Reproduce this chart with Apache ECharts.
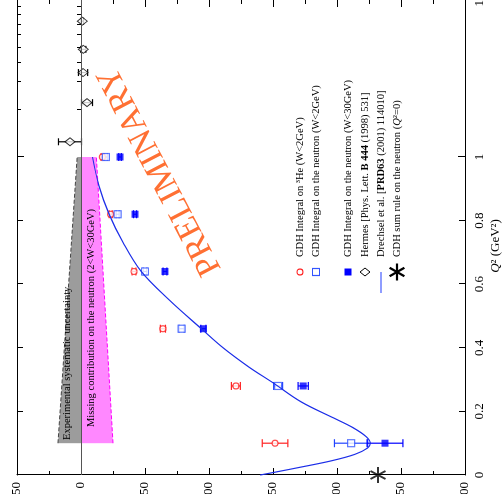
<!DOCTYPE html>
<html><head><meta charset="utf-8">
<script src="https://cdn.jsdelivr.net/npm/echarts@6/dist/echarts.min.js"></script>
<style>
html,body{margin:0;padding:0;width:504px;height:494px;overflow:hidden;background:#fff}
#wrap{position:absolute;left:0;top:0;width:494px;height:504px;transform-origin:0 0;transform:translateY(494px) rotate(-90deg);}
#chart{width:494px;height:504px;background:#fff}
</style></head><body>
<div id="wrap"><div id="chart"></div></div>
<script>
// ---- data (Q2 in GeV^2, integral in microbarn) ----
const q2Jlab   = [0.10, 0.28, 0.46, 0.64, 0.82, 1.00];
const he3Low   = [-151.6, -121.0, -64.0, -41.4, -23.2, -16.7];
const he3Err   = [10, 3.5, 2, 1.5, 1.2, 1];
const nLow     = [-211.0, -154.0, -78.6, -50.0, -28.6, -19.5];
const nLowErr  = [13, 3.5, 2, 1.5, 1.2, 1];
const nHigh    = [-237.5, -173.6, -95.6, -65.6, -42.2, -30.5];
const nHighErr = [14, 4, 2, 1.5, 1.2, 1];
const hermesQ2 = [1.25, 2.22, 3.45, 4.85, 7.33];
const hermes   = [8.6, -4.7, -1.6, -1.8, -1.0];
const hermesErr= [9, 4.3, 3.6, 2, 1];
const maidQ2   = [0, 0.01, 0.025, 0.045, 0.065, 0.085, 0.10, 0.12, 0.15, 0.18, 0.23, 0.29, 0.34, 0.40, 0.46, 0.55, 0.64, 0.73, 0.82, 0.91, 1.00];
const maid     = [-140, -153, -172, -196, -214, -224, -226, -223, -212, -197, -172, -150, -131, -111, -94, -69, -47, -33, -22, -14, -9];
const gdhQ2    = [0];
const gdhSum   = [-232];
const bandQ2   = [0.10, 1.00];
const sysUpper = [18, 3];
const missLower= [-25, -12];
const linTicks = [0, 0.2, 0.4, 0.6, 0.8];
const logMajor = [1, 10];
const logMinor = [2, 3, 4, 5, 6, 7, 8, 9];
const yMin = -300, yMax = 50, yStep = 50;

const zip = (a, b) => a.map((v, i) => [v, b[i]]);
const zip3 = (a, b, c) => a.map((v, i) => [v, b[i], c[i]]);
const SERIF = '"Liberation Serif", "DejaVu Serif", serif';

function errRender(color, cap) {
  return function (params, api) {
    const x = api.value(0), y = api.value(1), e = api.value(2);
    const t = api.coord([x, y + e]), b = api.coord([x, y - e]);
    const st = {stroke: color, lineWidth: 1.2};
    return {type: 'group', children: [
      {type: 'line', shape: {x1: t[0], y1: t[1], x2: b[0], y2: b[1]}, style: st},
      {type: 'line', shape: {x1: t[0] - cap, y1: t[1], x2: t[0] + cap, y2: t[1]}, style: st},
      {type: 'line', shape: {x1: b[0] - cap, y1: b[1], x2: b[0] + cap, y2: b[1]}, style: st}
    ]};
  };
}
const STAR = 'path://M-10,-1.2L10,-1.2L10,1.2L-10,1.2Z M-3.961,-9.26L6.039,8.06L3.961,9.26L-6.039,-8.06Z M-6.039,8.06L3.961,-9.26L6.039,-8.06L-3.961,9.26Z';

const axLine = {show: true, onZero: false, lineStyle: {color: '#000', width: 1}};
const lbl = {color: '#000', fontFamily: SERIF, fontSize: 13};

const xAxes = [
  {gridIndex: 0, type: 'value', min: 0, max: 1, interval: 0.2, position: 'bottom',
   axisLine: axLine, axisTick: {inside: true, length: 6, lineStyle: {color: '#000'}},
   axisLabel: Object.assign({margin: 8, showMaxLabel: false}, lbl), splitLine: {show: false}},
  {gridIndex: 0, type: 'value', min: 0, max: 1, interval: 0.2, position: 'top',
   axisLine: axLine, axisTick: {inside: true, length: 6, lineStyle: {color: '#000'}},
   axisLabel: {show: false}, splitLine: {show: false}},
  {gridIndex: 1, type: 'log', logBase: 10, min: 1, max: 10, position: 'bottom',
   axisLine: axLine, axisTick: {inside: true, length: 7, lineStyle: {color: '#000'}},
   axisLabel: Object.assign({margin: 8, formatter: v => String(Math.round(v))}, lbl), splitLine: {show: false}},
  {gridIndex: 1, type: 'log', logBase: 10, min: 1, max: 10, position: 'bottom',
   axisLine: {show: false}, axisTick: {inside: true, length: 4, customValues: logMinor, lineStyle: {color: '#000'}},
   axisLabel: {show: false}, splitLine: {show: false}},
  {gridIndex: 1, type: 'log', logBase: 10, min: 1, max: 10, position: 'top',
   axisLine: axLine, axisTick: {inside: true, length: 7, lineStyle: {color: '#000'}},
   axisLabel: {show: false}, splitLine: {show: false}},
  {gridIndex: 1, type: 'log', logBase: 10, min: 1, max: 10, position: 'top',
   axisLine: {show: false}, axisTick: {inside: true, length: 4, customValues: logMinor, lineStyle: {color: '#000'}},
   axisLabel: {show: false}, splitLine: {show: false}}
];
const yAxes = [
  {gridIndex: 0, type: 'value', min: yMin, max: yMax, interval: yStep, position: 'left',
   axisLine: axLine, axisTick: {inside: true, length: 7, lineStyle: {color: '#000'}},
   minorTick: {show: true, splitNumber: 2, length: 4, lineStyle: {color: '#000'}},
   axisLabel: Object.assign({margin: 7}, lbl), splitLine: {show: false}, minorSplitLine: {show: false}},
  {gridIndex: 1, type: 'value', min: yMin, max: yMax, interval: yStep, position: 'right',
   axisLine: axLine, axisTick: {inside: true, length: 7, lineStyle: {color: '#000'}},
   minorTick: {show: true, splitNumber: 2, length: 4, lineStyle: {color: '#000'}},
   axisLabel: {show: false}, splitLine: {show: false}, minorSplitLine: {show: false}}
];

const zeroLine = {silent: true, symbol: 'none', label: {show: false},
  lineStyle: {color: '#555', width: 1, type: 'solid'}, data: [{yAxis: 0}]};

const series = [
  {type: 'line', xAxisIndex: 0, yAxisIndex: 0, data: zip(bandQ2, sysUpper), symbol: 'none', z: 1,
   lineStyle: {color: '#444', width: 1, type: 'dashed'}, areaStyle: {color: '#9c9c9c', opacity: 1, origin: 0},
   markLine: zeroLine},
  {type: 'line', xAxisIndex: 0, yAxisIndex: 0, data: zip(bandQ2, missLower), symbol: 'none', z: 1,
   lineStyle: {color: '#ff00ff', width: 1, type: 'dashed'}, areaStyle: {color: '#ff88ff', opacity: 1, origin: 0}},
  {type: 'custom', xAxisIndex: 0, yAxisIndex: 0, data: zip3(q2Jlab, he3Low, he3Err), renderItem: errRender('#ff2222', 4), z: 3, encode: {x: 0, y: 1}},
  {type: 'custom', xAxisIndex: 0, yAxisIndex: 0, data: zip3(q2Jlab, nLow, nLowErr), renderItem: errRender('#2244ff', 4), z: 3, encode: {x: 0, y: 1}},
  {type: 'custom', xAxisIndex: 0, yAxisIndex: 0, data: zip3(q2Jlab, nHigh, nHighErr), renderItem: errRender('#0000ff', 4), z: 3, encode: {x: 0, y: 1}},
  {type: 'scatter', xAxisIndex: 0, yAxisIndex: 0, data: zip(q2Jlab, he3Low), symbol: 'circle', symbolSize: 6, clip: false, z: 4,
   itemStyle: {color: '#fff', borderColor: '#ff2222', borderWidth: 1.2}},
  {type: 'scatter', xAxisIndex: 0, yAxisIndex: 0, data: zip(q2Jlab, nLow), symbol: 'rect', symbolSize: 7, clip: false, z: 4,
   itemStyle: {color: '#fff', borderColor: '#3355ff', borderWidth: 1.2}},
  {type: 'scatter', xAxisIndex: 0, yAxisIndex: 0, data: zip(q2Jlab, nHigh), symbol: 'rect', symbolSize: 7, clip: false, z: 4,
   itemStyle: {color: '#0000ff', borderColor: '#0000ff', borderWidth: 0}},
  {type: 'line', xAxisIndex: 0, yAxisIndex: 0, data: zip(maidQ2, maid), symbol: 'none', smooth: 0.35, z: 5,
   lineStyle: {color: '#1c2ee8', width: 1.2}},
  {type: 'scatter', xAxisIndex: 0, yAxisIndex: 0, data: zip(gdhQ2, gdhSum), symbol: STAR, symbolSize: 16, clip: false, z: 6,
   itemStyle: {color: '#000'}},
  {type: 'custom', xAxisIndex: 2, yAxisIndex: 1, data: zip3(hermesQ2, hermes, hermesErr), renderItem: errRender('#000', 3.5), z: 3, encode: {x: 0, y: 1},
   markLine: zeroLine},
  {type: 'scatter', xAxisIndex: 2, yAxisIndex: 1, data: zip(hermesQ2, hermes), symbol: 'diamond', symbolSize: [8, 10], clip: false, z: 4,
   itemStyle: {color: '#fff', borderColor: '#000', borderWidth: 1}}
];

const T = 10.5;
const baseTxt = (x, y, text, rich) => ({type: 'text', x: x, y: y, z: 10, silent: true,
  style: {text: text, fill: '#000', fontFamily: SERIF, fontSize: T, verticalAlign: 'middle', align: 'left', rich: rich || {}}});
const bold = {b: {fontFamily: SERIF, fontSize: T, fontWeight: 'bold', fill: '#000'}};
const ital = {i: {fontFamily: SERIF, fontSize: T, fontStyle: 'italic', fill: '#000'}};
const LX = 222, TX = 237;
function starGraphic(cx, cy, r) {
  const parts = [];
  for (let k = 0; k < 3; k++) {
    const a = k * Math.PI / 3;
    parts.push({type: 'line', z: 10, shape: {x1: cx - r * Math.cos(a), y1: cy - r * Math.sin(a), x2: cx + r * Math.cos(a), y2: cy + r * Math.sin(a)},
      style: {stroke: '#000', lineWidth: 2.2}});
  }
  return parts;
}
const graphic = [
  baseTxt(54, 67, 'Experimental systematic uncertainty'),
  baseTxt(67, 91, 'Missing contribution on the neutron (2<W<30GeV)'),
  {type: 'circle', shape: {cx: LX, cy: 300, r: 3}, style: {fill: '#fff', stroke: '#ff2222', lineWidth: 1.2}, z: 10},
  baseTxt(TX, 300, 'GDH Integral on \u00B3He (W<2GeV)'),
  {type: 'rect', shape: {x: LX - 3.5, y: 316 - 3.5, width: 7, height: 7}, style: {fill: '#fff', stroke: '#3355ff', lineWidth: 1.2}, z: 10},
  baseTxt(TX, 316, 'GDH Integral on the neutron (W<2GeV)'),
  {type: 'rect', shape: {x: LX - 3.5, y: 348 - 3.5, width: 7, height: 7}, style: {fill: '#0000ff'}, z: 10},
  baseTxt(TX, 348, 'GDH Integral on the neutron (W<30GeV)'),
  {type: 'polygon', shape: {points: [[LX, 360], [LX + 4, 365], [LX, 370], [LX - 4, 365]]}, style: {fill: '#fff', stroke: '#000', lineWidth: 1}, z: 10},
  baseTxt(TX, 365, 'Hermes [Phys. Lett. {b|B 444} (1998) 531]', bold),
  {type: 'line', shape: {x1: 201, y1: 381, x2: 222, y2: 381}, style: {stroke: '#6a7cff', lineWidth: 1.5}, z: 10}
].concat(starGraphic(LX, 397, 8.5)).concat([
  baseTxt(TX, 381, 'Drechsel et al. [{b|PRD63} (2001) 114010]', bold),
  baseTxt(TX, 397, 'GDH sum rule on the neutron ({i|Q}\u00B2=0)', ital),
  {type: 'text', x: 248, y: 496, z: 10, silent: true,
   style: {text: '{i|Q}\u00B2 (GeV\u00B2)', fill: '#000', fontFamily: SERIF, fontSize: 13, align: 'center', verticalAlign: 'middle',
     rich: {i: {fontFamily: SERIF, fontSize: 13, fontStyle: 'italic', fill: '#000'}}}},
  {type: 'text', x: 323, y: 160, z: 12, silent: true, rotation: 27.6 * Math.PI / 180,
   style: {text: 'PRELIMINARY', fill: '#ff7033', fontFamily: SERIF, fontSize: 34, align: 'center', verticalAlign: 'middle'}}
]);

const chart = echarts.init(document.getElementById('chart'), null, {renderer: 'canvas'});
chart.setOption({
  animation: false,
  backgroundColor: '#fff',
  grid: [
    {left: 19, top: 17, width: 318, height: 448, outerBoundsMode: 'none', containLabel: false},
    {left: 337, top: 17, width: 157, height: 448, outerBoundsMode: 'none', containLabel: false}
  ],
  xAxis: xAxes,
  yAxis: yAxes,
  series: series,
  graphic: graphic
});
</script>
</body></html>
